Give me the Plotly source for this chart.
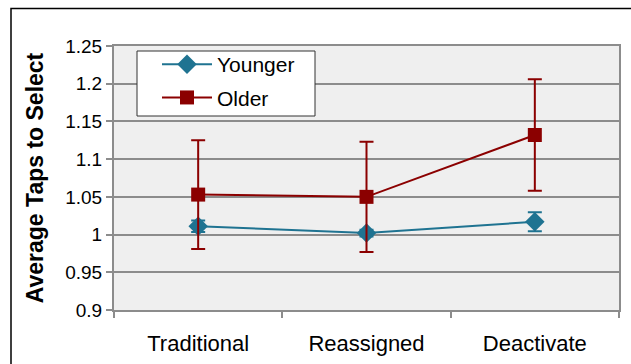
import plotly.graph_objects as go

categories = ["Traditional", "Reassigned", "Deactivate"]
younger = [1.011, 1.002, 1.017]
younger_err = [0.0075, 0.0045, 0.0125]
older = [1.053, 1.050, 1.132]
older_err = [0.072, 0.073, 0.074]
y_ticks = [0.9, 0.95, 1.0, 1.05, 1.1, 1.15, 1.2, 1.25]
y_tick_labels = ["0.9", "0.95", "1", "1.05", "1.1", "1.15", "1.2", "1.25"]

YCOL = "#1F7391"
OCOL = "#8B0000"
GRID = "#8C8C8C"
FONT = "Liberation Sans, Arial, sans-serif"

fig = go.Figure()
fig.add_trace(go.Scatter(
    x=categories, y=younger, name="Younger", mode="lines+markers",
    legendgroup="y",
    line=dict(color=YCOL, width=2),
    marker=dict(symbol="diamond", size=15, color=YCOL),
    error_y=dict(type="data", array=younger_err, visible=True,
                 color=YCOL, thickness=2, width=7),
))
fig.add_trace(go.Scatter(
    x=categories, y=older, name="Older", mode="lines+markers",
    legendgroup="o",
    line=dict(color=OCOL, width=2),
    marker=dict(symbol="square", size=14, color=OCOL),
    error_y=dict(type="data", array=older_err, visible=True,
                 color=OCOL, thickness=2, width=7),
))

L, R, T, B = 114, 12, 46, 54
W, H = 631, 364
pw, ph = W - L - R, H - T - B

def px(x):
    return (x - L) / pw

def py(y):
    return (H - B - y) / ph

shapes = [
    # legend box
    dict(type="rect", xref="paper", yref="paper",
         x0=px(137), x1=px(315), y0=py(116), y1=py(51),
         fillcolor="white", line=dict(color="#333333", width=1), layer="above"),
    # outer frame
    dict(type="rect", xref="paper", yref="paper",
         x0=px(11), x1=px(640), y0=py(375), y1=py(8.5),
         fillcolor="rgba(0,0,0,0)", line=dict(color="black", width=1.5), layer="below"),
]

fig.update_layout(
    width=W, height=H,
    margin=dict(l=L, r=R, t=T, b=B, autoexpand=False),
    paper_bgcolor="white",
    plot_bgcolor="#EFEFEF",
    font=dict(family=FONT, color="black"),
    showlegend=True,
    legend=dict(
        x=px(157), y=py(44), xanchor="left", yanchor="top",
        bgcolor="rgba(0,0,0,0)", borderwidth=0,
        font=dict(size=21, family=FONT, color="black"),
        itemwidth=50, tracegroupgap=3,
    ),
    shapes=shapes,
    xaxis=dict(
        type="category", tickson="boundaries", ticks="outside", ticklen=6,
        tickcolor=GRID, tickwidth=1.5,
        showgrid=False, showline=True, mirror=True,
        linecolor=GRID, linewidth=2, automargin=False,
        tickfont=dict(size=22, family=FONT, color="black"),
        ticklabelstandoff=13,
        range=[-0.5, 2.5], fixedrange=True,
    ),
    yaxis=dict(
        range=[0.9, 1.25], tickvals=y_ticks, ticktext=y_tick_labels,
        ticks="outside", ticklen=6, tickcolor=GRID, tickwidth=1.5,
        showgrid=True, gridcolor=GRID, gridwidth=1.5,
        showline=True, mirror=True, linecolor=GRID, linewidth=2,
        zeroline=False, automargin=False,
        tickfont=dict(size=19, family=FONT, color="black"),
        title=dict(text="<b>Average Taps to Select</b>",
                   font=dict(size=23, family=FONT, color="black"),
                   standoff=15),
    ),
)

fig.write_html("out.html", config={"displayModeBar": False},
               post_script="document.body.style.margin='0px';")
